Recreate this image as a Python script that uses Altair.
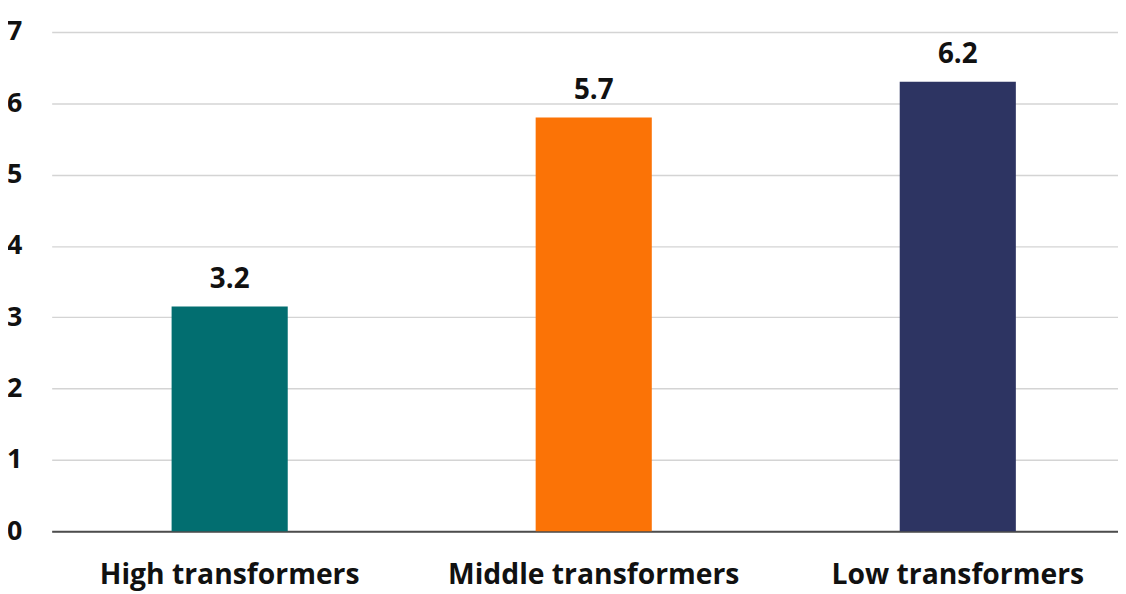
import altair as alt
import pandas as pd

categories = ["High transformers", "Middle transformers", "Low transformers"]
bar_values = [3.15, 5.8, 6.3]
value_labels = ["3.2", "5.7", "6.2"]
colors = ["#026e70", "#fb7306", "#2d3462"]
y_ticks = [0, 1, 2, 3, 4, 5, 6, 7]

df = pd.DataFrame({"cat": categories, "val": bar_values, "lab": value_labels})

FONT = "Open Sans"

x = alt.X("cat:N", sort=categories, title=None,
          scale=alt.Scale(paddingInner=0.681, paddingOuter=0.305, align=0.54),
          axis=alt.Axis(labelAngle=0, labelFont=FONT, labelFontSize=28.5, labelFontWeight="bold",
                        labelColor="#111111", labelPadding=30, labelLimit=0, ticks=False,
                        domainColor="#4d4d4d", domainWidth=2, grid=False))
y = alt.Y("val:Q", title=None,
          scale=alt.Scale(domain=[0, 7], nice=False),
          axis=alt.Axis(values=y_ticks, format="d", labelFont=FONT, labelFontSize=27,
                        labelFontWeight="bold", labelColor="#111111", labelPadding=30,
                        ticks=False, domain=False, gridColor="#d4d4d4", gridWidth=1.5))

bars = alt.Chart(df).mark_bar().encode(
    x=x, y=y,
    color=alt.Color("cat:N", sort=categories,
                    scale=alt.Scale(domain=categories, range=colors), legend=None),
)

text = alt.Chart(df).mark_text(font=FONT, fontSize=28, fontWeight="bold", color="#111111",
                               baseline="bottom", dy=-13).encode(
    x=alt.X("cat:N", sort=categories),
    y=alt.Y("val:Q"),
    text="lab:N",
)

chart = alt.layer(bars, text).properties(
    width=1074, height=503,
    padding={"left": 44, "top": 22, "right": 0, "bottom": 58},
    autosize=alt.AutoSizeParams(type="none"),
).configure_view(stroke=None)

chart.save("out.html", embed_options={"renderer": "svg", "actions": False})
